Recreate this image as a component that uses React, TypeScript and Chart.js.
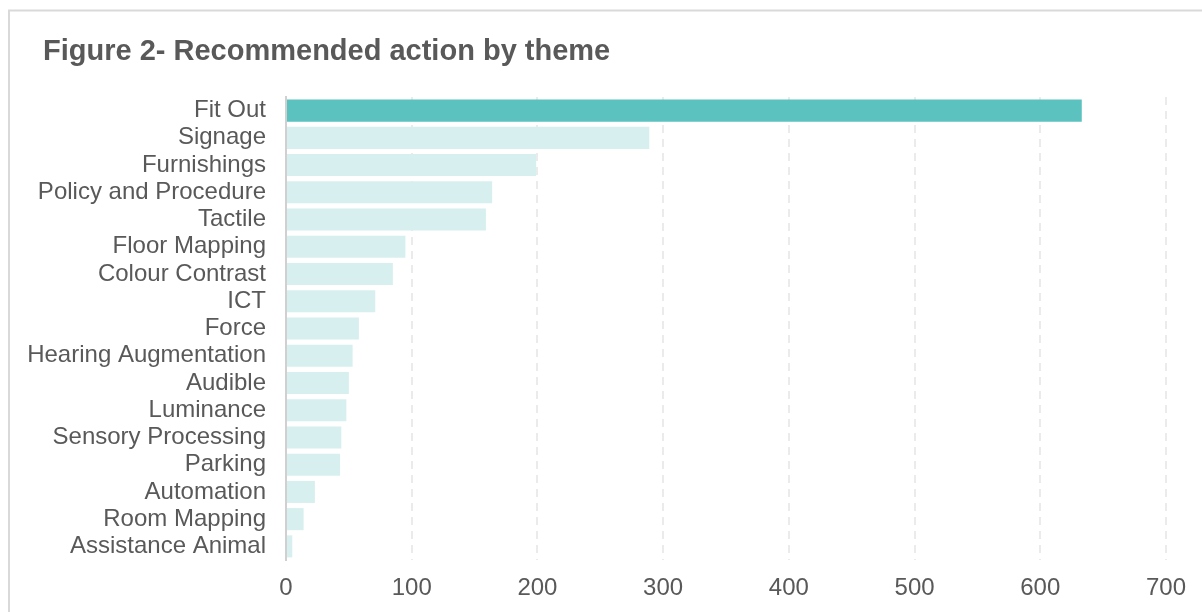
import React, { useEffect, useRef } from "react";
import { Chart, registerables } from "chart.js";

Chart.register(...registerables);

const categories = [
  "Fit Out",
  "Signage",
  "Furnishings",
  "Policy and Procedure",
  "Tactile",
  "Floor Mapping",
  "Colour Contrast",
  "ICT",
  "Force",
  "Hearing Augmentation",
  "Audible",
  "Luminance",
  "Sensory Processing",
  "Parking",
  "Automation",
  "Room Mapping",
  "Assistance Animal",
];

const actionCounts = [633, 289, 199, 164, 159, 95, 85, 71, 58, 53, 50, 48, 44, 43, 23, 14, 5];

const highlightIndex = [0];

const xTicks = [0, 100, 200, 300, 400, 500, 600, 700];

const titleText = "Figure 2- Recommended action by theme";

const TEAL = "#5BC2BF";
const LIGHT = "#D7F0EF";
const TEXT = "#595959";
const FONT = "'Liberation Sans', Arial, sans-serif";

export default function App() {
  const ref = useRef<HTMLCanvasElement | null>(null);

  useEffect(() => {
    if (!ref.current) return;
    const framePlugin = {
      id: "frame",
      beforeDraw(chart: any) {
        const ctx = chart.ctx;
        ctx.save();
        ctx.fillStyle = "#ffffff";
        ctx.fillRect(0, 0, chart.width, chart.height);
        ctx.strokeStyle = "#d9d9d9";
        ctx.lineWidth = 2;
        ctx.beginPath();
        ctx.moveTo(9, chart.height);
        ctx.lineTo(9, 10.5);
        ctx.lineTo(chart.width, 10.5);
        ctx.stroke();
        ctx.fillStyle = TEXT;
        ctx.font = `bold 29px ${FONT}`;
        ctx.textBaseline = "alphabetic";
        ctx.textAlign = "left";
        ctx.fillText(titleText, 43, 60);
        ctx.restore();
      },
    };

    const chart = new Chart(ref.current, {
      type: "bar",
      data: {
        labels: categories,
        datasets: [
          {
            data: actionCounts,
            backgroundColor: actionCounts.map((_, i) => (highlightIndex.includes(i) ? TEAL : LIGHT)),
            barPercentage: 0.9,
            categoryPercentage: 0.9,
          },
        ],
      },
      options: {
        indexAxis: "y",
        responsive: false,
        animation: false,
        layout: { padding: { top: 97, right: 36, left: 0, bottom: 0 } },
        plugins: {
          legend: { display: false },
          title: { display: false },
          tooltip: { enabled: false },
        },
        scales: {
          x: {
            min: 0,
            max: 700,
            afterBuildTicks: (scale: any) => {
              scale.ticks = xTicks.map((v) => ({ value: v }));
            },
            afterFit: (scale: any) => {
              scale.height = 52;
            },
            grid: {
              display: true,
              drawTicks: false,
              color: (c: any) => (c.tick && c.tick.value === 0 ? "rgba(0,0,0,0)" : "#ebebeb"),
              lineWidth: 2,
            },
            border: { display: false, dash: [8, 6] },
            ticks: {
              color: TEXT,
              font: { family: FONT, size: 24 },
              padding: 14,
            },
          },
          y: {
            afterFit: (scale: any) => {
              scale.width = 286;
            },
            grid: { display: false, drawTicks: false },
            border: { display: true, color: "#d0d0d0", width: 2 },
            ticks: {
              color: TEXT,
              font: { family: FONT, size: 24 },
              padding: 20,
              autoSkip: false,
            },
          },
        },
      },
      plugins: [framePlugin],
    } as any);

    return () => chart.destroy();
  }, []);

  return (
    <canvas
      ref={ref}
      width={1202}
      height={612}
      style={{ position: "fixed", left: 0, top: 0, width: 1202, height: 612 }}
    />
  );
}
